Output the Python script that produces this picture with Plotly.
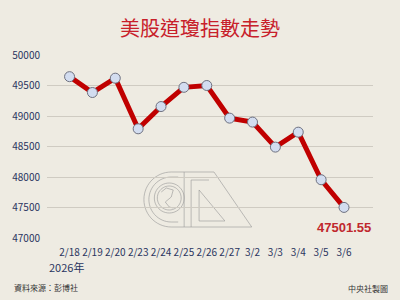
import math
import plotly.graph_objects as go

dates = ["2/18", "2/19", "2/20", "2/23", "2/24", "2/25", "2/26",
         "2/27", "3/2", "3/3", "3/4", "3/5", "3/6"]
values = [49645, 49385, 49620, 48790, 49155, 49470, 49500,
          48965, 48900, 48490, 48735, 47955, 47501.55]
y_ticks = [47000, 47500, 48000, 48500, 49000, 49500, 50000]

BG = "#EEEBE2"
RED = "#C00000"
NAVY = "#2A3560"
FONT = "Noto Sans CJK TC"

L, R, T, B = 45, 27, 55, 62
W, H = 400, 300
PW, PH = W - L - R, H - T - B


def P(x, y):
    """pixel -> paper coordinates (decorative watermark only)"""
    return f"{(x - L) / PW:.4f},{(H - B - y) / PH:.4f}"


def arc(cx, cy, r, a0, a1, n=30):
    pts = []
    for i in range(n + 1):
        a = math.radians(a0 + (a1 - a0) * i / n)
        pts.append(P(cx + r * math.cos(a), cy - r * math.sin(a)))
    return pts


def path(pts, close=False):
    s = "M " + " L ".join(p.replace(",", " ") for p in pts)
    return s + (" Z" if close else "")


fig = go.Figure()

# faint CNA watermark (decorative)
wm = "rgba(150,150,150,0.6)"
shapes_paths = []
outer = [P(183, 172)] + arc(170, 199.5, 27.5, 90, 270) + [P(183, 227)]
inner = [P(177, 177)] + arc(170, 199.5, 22.5, 90, 270) + [P(177, 222)]
shapes_paths.append(path(outer))
shapes_paths.append(path(inner))
shapes_paths.append(path(arc(168, 198, 15, 0, 360, 48), True))
shapes_paths.append(path(arc(168, 198, 12, 0, 360, 48), True))
shapes_paths.append(path([P(183, 227), P(183, 172), P(213, 172), P(251, 227), P(190, 227)], True))
shapes_paths.append(path([P(190, 227), P(190, 180), P(208, 180)]))
shapes_paths.append(path([P(198, 190), P(198, 221), P(224, 221)], True))
shapes_paths.append(path([P(160, 192), P(165, 188), P(172, 190), P(170, 197), P(164, 202), P(168, 207), P(172, 208)]))
for sp in shapes_paths:
    fig.add_shape(type="path", xref="paper", yref="paper", layer="below",
                  path=sp, line=dict(color=wm, width=1))

fig.add_trace(go.Scatter(
    x=dates, y=values, mode="lines+markers",
    line=dict(color=RED, width=5),
    marker=dict(size=10, color="#D3DDF0", line=dict(color="#6E7180", width=1)),
    hoverinfo="skip", showlegend=False,
))

fig.add_annotation(x=dates[-1], y=values[-1], text=f"<b>{values[-1]:.2f}</b>",
                   showarrow=False, yshift=-20, xanchor="center",
                   font=dict(family="Liberation Sans", size=13, color="#C0282D"))

fig.update_layout(
    width=W, height=H,
    margin=dict(l=L, r=R, t=T, b=B),
    paper_bgcolor=BG, plot_bgcolor=BG,
    title=dict(text="美股道瓊指數走勢", x=0.5, xanchor="center", y=0.905, yanchor="middle",
               font=dict(family=FONT, size=20, color="#C8202A")),
    xaxis=dict(type="category", showgrid=False, zeroline=False, showline=False,
               ticks="outside", ticklen=5, tickcolor=BG, tickangle=0,
               tickfont=dict(family=FONT, size=10, color=NAVY), fixedrange=True),
    yaxis=dict(range=[47000, 50000], tickvals=y_ticks, ticktext=[str(v) for v in y_ticks],
               showgrid=True, gridcolor="#CFCBC2", gridwidth=1, zeroline=False,
               ticks="outside", ticklen=4, tickcolor=BG,
               tickfont=dict(family=FONT, size=10, color=NAVY), fixedrange=True),
    font=dict(family=FONT),
)

fig.add_annotation(xref="paper", yref="paper", x=0.0, y=-0.158, text="2026年",
                   showarrow=False, xanchor="left", yanchor="middle",
                   font=dict(family=FONT, size=11, color=NAVY))
fig.add_annotation(xref="paper", yref="paper", x=-0.107, y=-0.273, text="資料來源：彭博社",
                   showarrow=False, xanchor="left", yanchor="middle",
                   font=dict(family=FONT, size=8, color="#333333"))
fig.add_annotation(xref="paper", yref="paper", x=1.052, y=-0.278, text="中央社製圖",
                   showarrow=False, xanchor="right", yanchor="middle",
                   font=dict(family=FONT, size=8, color="#333333"))

fig.write_html("out.html")
